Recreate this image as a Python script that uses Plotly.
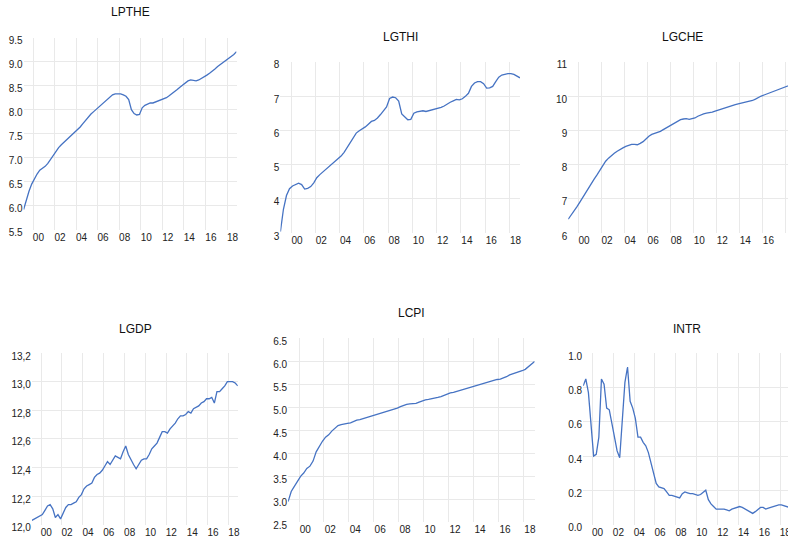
import plotly.graph_objects as go

# ---------------- data (quarterly, 1999Q1 - 2018Q4) ----------------
quarters = [f"{y}Q{q}" for y in range(1999, 2019) for q in range(1, 5)]

LPTHE = [5.92, 6.12, 6.30, 6.45, 6.56, 6.66, 6.74, 6.78, 6.82, 6.88, 6.96, 7.06,
         7.14, 7.21, 7.27, 7.32, 7.37, 7.42, 7.47, 7.53, 7.58, 7.64, 7.71, 7.78,
         7.85, 7.91, 7.96, 8.01, 8.06, 8.11, 8.16, 8.21, 8.27, 8.31, 8.33, 8.33,
         8.33, 8.31, 8.28, 8.21, 8.00, 7.92, 7.89, 7.90, 8.04, 8.09, 8.12, 8.14,
         8.14, 8.16, 8.18, 8.20, 8.22, 8.25, 8.29, 8.33, 8.38, 8.42, 8.47, 8.52,
         8.57, 8.60, 8.62, 8.61, 8.60, 8.62, 8.65, 8.68, 8.72, 8.76, 8.80, 8.85,
         8.90, 8.94, 8.98, 9.02, 9.06, 9.10, 9.15, 9.21]

LGTHI = [3.05, 3.70, 4.10, 4.30, 4.38, 4.43, 4.46, 4.42, 4.29, 4.31, 4.36, 4.47,
         4.62, 4.71, 4.79, 4.86, 4.93, 5.02, 5.10, 5.17, 5.25, 5.36, 5.50, 5.68,
         5.82, 5.92, 5.99, 6.04, 6.10, 6.18, 6.26, 6.29, 6.36, 6.46, 6.56, 6.68,
         6.93, 6.97, 6.95, 6.85, 6.48, 6.38, 6.31, 6.32, 6.50, 6.54, 6.56, 6.57,
         6.55, 6.57, 6.59, 6.61, 6.63, 6.67, 6.71, 6.77, 6.82, 6.86, 6.90, 6.89,
         6.92, 6.99, 7.08, 7.28, 7.38, 7.42, 7.42, 7.36, 7.23, 7.24, 7.28, 7.42,
         7.55, 7.61, 7.64, 7.65, 7.65, 7.63, 7.58, 7.53]

LGCHE = [6.41, 6.52, 6.65, 6.77, 6.90, 7.04, 7.20, 7.33, 7.46, 7.58, 7.70, 7.84,
         7.99, 8.10, 8.19, 8.27, 8.33, 8.39, 8.45, 8.49, 8.53, 8.56, 8.59, 8.59,
         8.58, 8.62, 8.67, 8.75, 8.83, 8.88, 8.91, 8.93, 8.97, 9.02, 9.07, 9.12,
         9.17, 9.21, 9.26, 9.31, 9.33, 9.34, 9.32, 9.33, 9.36, 9.41, 9.45, 9.48,
         9.50, 9.51, 9.53, 9.56, 9.59, 9.62, 9.65, 9.68, 9.70, 9.72, 9.75, 9.77,
         9.79, 9.81, 9.82, 9.84, 9.87, 9.91, 9.96, 10.00, 10.03, 10.06, 10.09, 10.12,
         10.15, 10.19, 10.22, 10.26, 10.29, 10.32, 10.35, 10.38]

LGDP = [12.03, 12.04, 12.05, 12.06, 12.07, 12.10, 12.13, 12.14, 12.11, 12.05, 12.07, 12.04,
        12.08, 12.12, 12.14, 12.14, 12.15, 12.16, 12.19, 12.21, 12.25, 12.27, 12.28, 12.29,
        12.33, 12.35, 12.36, 12.38, 12.41, 12.44, 12.42, 12.45, 12.48, 12.47, 12.46, 12.51,
        12.55, 12.49, 12.46, 12.42, 12.39, 12.42, 12.45, 12.46, 12.46, 12.49, 12.53, 12.55,
        12.57, 12.61, 12.65, 12.65, 12.64, 12.67, 12.69, 12.71, 12.74, 12.76, 12.76, 12.77,
        12.79, 12.78, 12.81, 12.82, 12.83, 12.85, 12.86, 12.88, 12.88, 12.89, 12.85, 12.93,
        12.93, 12.95, 12.97, 13.00, 13.00, 13.00, 12.99, 12.97]

LCPI = [2.95, 3.17, 3.28, 3.38, 3.50, 3.57, 3.67, 3.72, 3.83, 4.03, 4.15, 4.26,
        4.35, 4.40, 4.48, 4.55, 4.60, 4.62, 4.64, 4.65, 4.66, 4.69, 4.72, 4.73,
        4.75, 4.77, 4.79, 4.81, 4.83, 4.86, 4.88, 4.90, 4.92, 4.93, 4.95, 4.98,
        5.01, 5.04, 5.06, 5.07, 5.07, 5.08, 5.11, 5.14, 5.16, 5.17, 5.18, 5.19,
        5.21, 5.23, 5.26, 5.29, 5.31, 5.32, 5.34, 5.36, 5.38, 5.40, 5.42, 5.44,
        5.46, 5.49, 5.50, 5.52, 5.54, 5.56, 5.58, 5.60, 5.61, 5.63, 5.66, 5.70,
        5.72, 5.74, 5.77, 5.79, 5.82, 5.87, 5.93, 5.99]

INTR = [0.81, 0.85, 0.77, 0.60, 0.40, 0.41, 0.51, 0.85, 0.82, 0.68, 0.67, 0.59,
        0.50, 0.43, 0.39, 0.62, 0.83, 0.92, 0.72, 0.68, 0.62, 0.51, 0.51, 0.48,
        0.46, 0.42, 0.36, 0.29, 0.24, 0.22, 0.215, 0.21, 0.19, 0.17, 0.17, 0.165,
        0.16, 0.155, 0.18, 0.19, 0.185, 0.18, 0.18, 0.175, 0.17, 0.175, 0.19, 0.20,
        0.145, 0.12, 0.105, 0.09, 0.09, 0.09, 0.09, 0.085, 0.08, 0.09, 0.095, 0.10,
        0.105, 0.10, 0.09, 0.08, 0.07, 0.065, 0.075, 0.085, 0.10, 0.10, 0.09, 0.095,
        0.10, 0.105, 0.11, 0.115, 0.115, 0.11, 0.105, 0.10]

x_tick_years = list(range(2000, 2019, 2))
x_tick_labels = ["00", "02", "04", "06", "08", "10", "12", "14", "16", "18"]

LPTHE_ticks = [5.5, 6.0, 6.5, 7.0, 7.5, 8.0, 8.5, 9.0, 9.5]
LPTHE_ticklabels = ["5.5", "6.0", "6.5", "7.0", "7.5", "8.0", "8.5", "9.0", "9.5"]
LGTHI_ticks = [3, 4, 5, 6, 7, 8]
LGTHI_ticklabels = ["3", "4", "5", "6", "7", "8"]
LGCHE_ticks = [6, 7, 8, 9, 10, 11]
LGCHE_ticklabels = ["6", "7", "8", "9", "10", "11"]
LGDP_ticks = [12.0, 12.2, 12.4, 12.6, 12.8, 13.0, 13.2]
LGDP_ticklabels = ["12,0", "12,2", "12,4", "12,6", "12,8", "13,0", "13,2"]
LCPI_ticks = [2.5, 3.0, 3.5, 4.0, 4.5, 5.0, 5.5, 6.0, 6.5]
LCPI_ticklabels = ["2.5", "3.0", "3.5", "4.0", "4.5", "5.0", "5.5", "6.0", "6.5"]
INTR_ticks = [0.0, 0.2, 0.4, 0.6, 0.8, 1.0]
INTR_ticklabels = ["0.0", "0.2", "0.4", "0.6", "0.8", "1.0"]

# quarter label -> decimal time (mid-quarter)
def qpos(label):
    y, q = label.split("Q")
    return int(y) + (int(q) - 1) / 4 + 0.125

xq = [qpos(s) for s in quarters]

# ---------------- layout geometry (pixels) ----------------
W, H = 788, 542
LINE_COLOR = "#4673c3"
GRID = "#e9e9e9"
FONT = "Liberation Sans Narrow, Liberation Sans, Arial, sans-serif"

panels = [
    # name, values, yticks, ylabels, yrange, (x0,x1,ytop,ybot) px, xrange, title pos
    ("LPTHE", LPTHE, LPTHE_ticks, LPTHE_ticklabels, [5.5, 9.5], (23.6, 236.5, 37.7, 229.7), [1999.125, 2018.875], (130, 12)),
    ("LGTHI", LGTHI, LGTHI_ticks, LGTHI_ticklabels, [3, 8], (280.4, 520.0, 61.7, 233.3), [1999.125, 2018.875], (400, 36.7)),
    ("LGCHE", LGCHE, LGCHE_ticks, LGCHE_ticklabels, [6, 11], (568.2, 788.0, 61.7, 233.3), [1999.125, 2018.2], (682, 36.7)),
    ("LGDP", LGDP, LGDP_ticks, LGDP_ticklabels, [12.0, 13.2], (31.9, 237.8, 353.0, 524.6), [1999.125, 2018.875], (135, 329.3)),
    ("LCPI", LCPI, LCPI_ticks, LCPI_ticklabels, [2.5, 6.5], (288.1, 534.6, 338.0, 522.4), [1999.125, 2018.875], (411, 312.7)),
    ("INTR", INTR, INTR_ticks, INTR_ticklabels, [0.0, 1.0], (583.2, 788.0, 353.3, 524.5), [1999.125, 2018.76], (686.5, 329.3)),
]

fig = go.Figure()
annotations = []
for k, (name, vals, yt, yl, yr, (x0, x1, yt_px, yb_px), xr, (tx, ty)) in enumerate(panels, start=1):
    xa = "x" if k == 1 else f"x{k}"
    ya = "y" if k == 1 else f"y{k}"
    fig.add_trace(go.Scatter(x=xq, y=vals, mode="lines", xaxis=xa, yaxis=ya,
                             line=dict(color=LINE_COLOR, width=1.3), showlegend=False,
                             name=name, cliponaxis=True))
    xkey = "xaxis" if k == 1 else f"xaxis{k}"
    ykey = "yaxis" if k == 1 else f"yaxis{k}"
    fig.layout[xkey] = dict(
        domain=[x0 / W, min(x1 / W, 1.0)], anchor=ya, range=xr, automargin=False,
        tickmode="array", tickvals=[y + 0.5 for y in x_tick_years], ticktext=x_tick_labels,
        showgrid=False, zeroline=False, showline=False, ticks="",
        ticklabeloverflow="allow",
        tickfont=dict(family=FONT, size=10, color="#222"),
        minor=dict(tick0=2000, dtick=2, showgrid=True, gridcolor=GRID, gridwidth=1, ticks=""),
        fixedrange=True,
    )
    fig.layout[ykey] = dict(
        domain=[1 - yb_px / H, 1 - yt_px / H], anchor=xa, range=yr, automargin=False,
        tickmode="array", tickvals=yt, ticktext=yl,
        showgrid=True, gridcolor=GRID, gridwidth=1, zeroline=False, showline=False, ticks="",
        tickfont=dict(family=FONT, size=10, color="#222"),
        ticklabelshift=3, fixedrange=True,
    )
    annotations.append(dict(text=name, x=tx / W, y=1 - ty / H, xref="paper", yref="paper",
                            xanchor="center", yanchor="middle", showarrow=False,
                            font=dict(family=FONT, size=12, color="#111")))

fig.update_layout(width=W, height=H, autosize=False,
                  margin=dict(l=0, r=0, t=0, b=0, autoexpand=False),
                  paper_bgcolor="white", plot_bgcolor="white",
                  hovermode=False,
                  annotations=annotations)

fig.write_html("out.html",
               config={"displayModeBar": False, "staticPlot": True},
               post_script="document.body.style.margin='0';document.body.style.padding='0';"
                           "document.body.style.overflow='hidden';")
